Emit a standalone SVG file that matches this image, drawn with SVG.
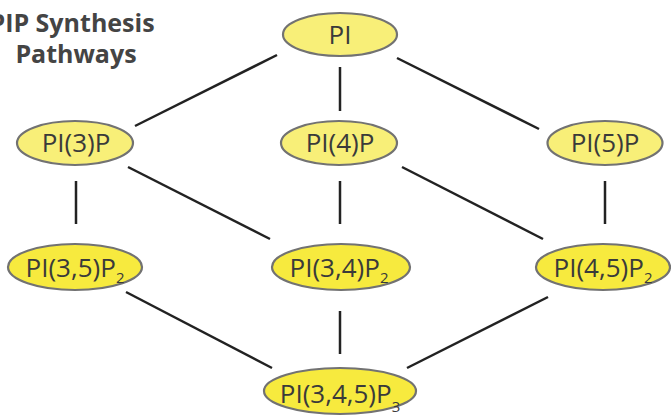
<svg xmlns="http://www.w3.org/2000/svg" width="671" height="419" viewBox="0 0 671 419">
<style>
.bg{fill:#ffffff}
.n1{fill:#f8ef78;stroke:#727272;stroke-width:2.2}
.n2{fill:#f7ea3e;stroke:#727272;stroke-width:2.2}
.lbl{font-family:"Open Sans","Liberation Sans",sans-serif;font-size:26px;fill:#3a3a3a;text-anchor:middle}
.sub{font-size:15px}
.title{font-family:"Open Sans","Liberation Sans",sans-serif;font-size:25px;font-weight:bold;fill:#444444;text-anchor:middle}
#edges line{stroke:#222222;stroke-width:2.5;stroke-linecap:butt}
</style>
<rect class="bg" x="0" y="0" width="671" height="419"/>
<g id="title">
<text class="title" x="72" y="32">PIP Synthesis</text>
<text class="title" x="76" y="63">Pathways</text>
</g>
<g id="edges">
<line x1="277" y1="55" x2="135" y2="126"/>
<line x1="340" y1="67" x2="340" y2="111"/>
<line x1="397" y1="58" x2="539" y2="129"/>
<line x1="76" y1="181" x2="76" y2="224"/>
<line x1="128" y1="167" x2="270" y2="239"/>
<line x1="340" y1="181" x2="340" y2="224"/>
<line x1="402" y1="167" x2="543" y2="239"/>
<line x1="605" y1="181" x2="605" y2="224"/>
<line x1="126" y1="292" x2="272" y2="368"/>
<line x1="340" y1="311" x2="340" y2="354"/>
<line x1="548" y1="297" x2="407" y2="368"/>
</g>
<g id="PI">
<ellipse class="n1" cx="340" cy="34.5" rx="57" ry="21.5"/>
<text class="lbl" x="340" y="43.5">PI</text>
</g>
<g id="PI3P">
<ellipse class="n1" cx="75" cy="143" rx="58" ry="22"/>
<text class="lbl" x="76" y="152">PI(3)P</text>
</g>
<g id="PI4P">
<ellipse class="n1" cx="339" cy="143" rx="58" ry="22"/>
<text class="lbl" x="340" y="152">PI(4)P</text>
</g>
<g id="PI5P">
<ellipse class="n1" cx="605" cy="143" rx="57.5" ry="22"/>
<text class="lbl" x="605" y="152">PI(5)P</text>
</g>
<g id="PI35P2">
<ellipse class="n2" cx="75" cy="267" rx="67" ry="23"/>
<text class="lbl" x="75" y="277">PI(3,5)P<tspan class="sub" dy="6">2</tspan></text>
</g>
<g id="PI34P2">
<ellipse class="n2" cx="341" cy="267" rx="69" ry="23"/>
<text class="lbl" x="339" y="277">PI(3,4)P<tspan class="sub" dy="6">2</tspan></text>
</g>
<g id="PI45P2">
<ellipse class="n2" cx="603" cy="267" rx="67" ry="23"/>
<text class="lbl" x="603" y="277">PI(4,5)P<tspan class="sub" dy="6">2</tspan></text>
</g>
<g id="PI345P3">
<ellipse class="n2" cx="340" cy="391" rx="76" ry="23"/>
<text class="lbl" x="340" y="403">PI(3,4,5)P<tspan class="sub" dy="9">3</tspan></text>
</g>
</svg>
